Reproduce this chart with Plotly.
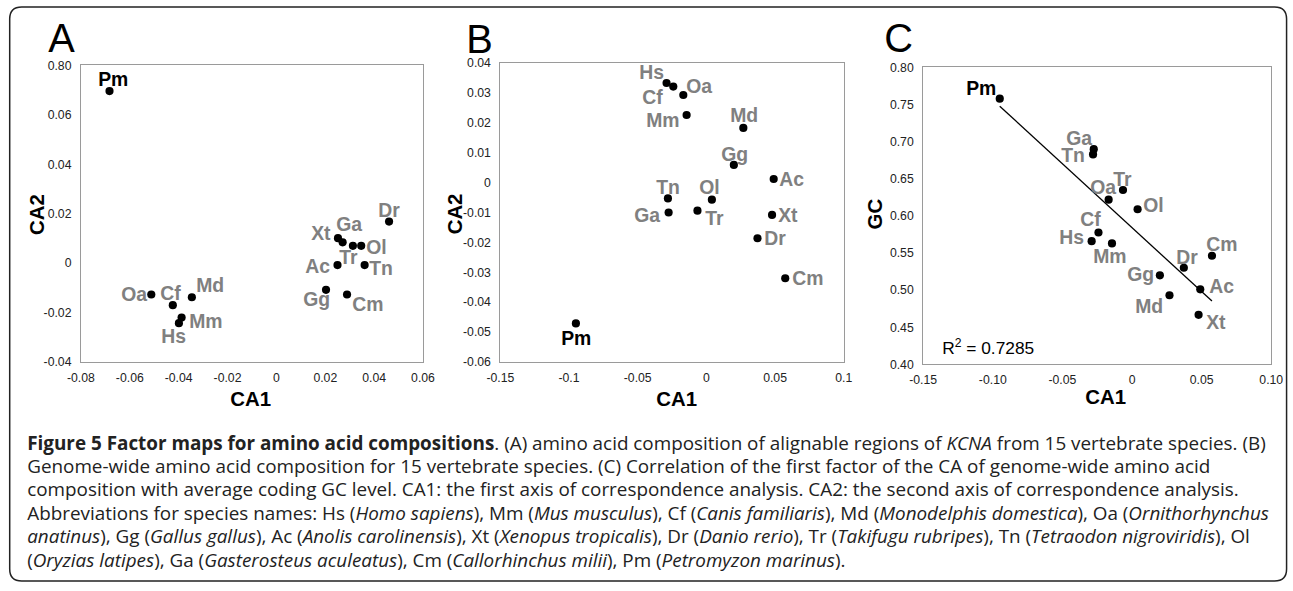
import numpy as np
import plotly.graph_objects as go

species = ["Hs", "Mm", "Cf", "Md", "Oa", "Gg", "Ac", "Xt", "Dr", "Tr", "Tn", "Ol", "Ga", "Cm", "Pm"]

# Panel A: amino acid composition of alignable KCNA regions
a_ca1 = [-0.0399, -0.0388, -0.0424, -0.0346, -0.0512, 0.0203, 0.0250, 0.0252, 0.0461,
         0.0313, 0.0361, 0.0347, 0.0271, 0.0289, -0.0683]
a_ca2 = [-0.0243, -0.0220, -0.0170, -0.0138, -0.0127, -0.0108, -0.0008, 0.0101, 0.0168,
         0.0070, -0.0008, 0.0070, 0.0084, -0.0127, 0.0696]

# Panels B and C: genome-wide amino acid composition
g_ca1 = [-0.0290, -0.0144, -0.0241, 0.0269, -0.0168, 0.0200, 0.0490, 0.0478, 0.0372,
         -0.0065, -0.0280, 0.0040, -0.0275, 0.0574, -0.0950]
g_ca2 = [0.0333, 0.0226, 0.0321, 0.0183, 0.0293, 0.0059, 0.0012, -0.0108, -0.0186,
         -0.0094, -0.0053, -0.0057, -0.0100, -0.0320, -0.0471]
gc_level = [0.5660, 0.5629, 0.5776, 0.4931, 0.6219, 0.5199, 0.5011, 0.4667, 0.5302,
            0.6349, 0.6828, 0.6090, 0.6899, 0.5463, 0.7579]

r2_text = "R<sup>2</sup> = 0.7285"

# tick values / labels
a_xticks = [-0.08, -0.06, -0.04, -0.02, 0, 0.02, 0.04, 0.06]
a_xlabels = ["-0.08", "-0.06", "-0.04", "-0.02", "0", "0.02", "0.04", "0.06"]
a_yticks = [-0.04, -0.02, 0, 0.02, 0.04, 0.06, 0.08]
a_ylabels = ["-0.04", "-0.02", "0", "0.02", "0.04", "0.06", "0.80"]
b_xticks = [-0.15, -0.1, -0.05, 0, 0.05, 0.1]
b_xlabels = ["-0.15", "-0.1", "-0.05", "0", "0.05", "0.1"]
b_yticks = [-0.06, -0.05, -0.04, -0.03, -0.02, -0.01, 0, 0.01, 0.02, 0.03, 0.04]
b_ylabels = ["-0.06", "-0.05", "-0.04", "-0.03", "-0.02", "-0.01", "0", "0.01", "0.02", "0.03", "0.04"]
c_xticks = [-0.15, -0.10, -0.05, 0, 0.05, 0.10]
c_xlabels = ["-0.15", "-0.10", "-0.05", "0", "0.05", "0.10"]
c_yticks = [0.40, 0.45, 0.50, 0.55, 0.60, 0.65, 0.70, 0.75, 0.80]
c_ylabels = ["0.40", "0.45", "0.50", "0.55", "0.60", "0.65", "0.70", "0.75", "0.80"]

caption_lines = [
    "<b>Figure 5 Factor maps for amino acid compositions</b>. (A) amino acid composition of alignable regions of <i>KCNA</i> from 15 vertebrate species. (B)",
    "Genome-wide amino acid composition for 15 vertebrate species. (C) Correlation of the first factor of the CA of genome-wide amino acid",
    "composition with average coding GC level. CA1: the first axis of correspondence analysis. CA2: the second axis of correspondence analysis.",
    "Abbreviations for species names: Hs (<i>Homo sapiens</i>), Mm (<i>Mus musculus</i>), Cf (<i>Canis familiaris</i>), Md (<i>Monodelphis domestica</i>), Oa (<i>Ornithorhynchus</i>",
    "<i>anatinus</i>), Gg (<i>Gallus gallus</i>), Ac (<i>Anolis carolinensis</i>), Xt (<i>Xenopus tropicalis</i>), Dr (<i>Danio rerio</i>), Tr (<i>Takifugu rubripes</i>), Tn (<i>Tetraodon nigroviridis</i>), Ol",
    "(<i>Oryzias latipes</i>), Ga (<i>Gasterosteus aculeatus</i>), Cm (<i>Callorhinchus milii</i>), Pm (<i>Petromyzon marinus</i>).",
]

# ---- label offsets (pixels: dx right, dy up) ----
a_off = {"Pm": (4, 12), "Oa": (-17, 1), "Cf": (-2, 12), "Md": (18, 12), "Mm": (24, -3),
         "Hs": (-5, -12), "Dr": (0, 11), "Xt": (-16, 5), "Ga": (6, 18), "Tr": (-4, -11),
         "Ol": (15, -1), "Ac": (-19, -1), "Tn": (16, -3), "Gg": (-9, -9), "Cm": (20, -9)}
b_off = {"Hs": (-15, 11), "Cf": (-20, -10), "Oa": (16, 9), "Mm": (-23, -5), "Md": (1, 13),
         "Gg": (1, 11), "Ac": (18, 0), "Tn": (0, 11), "Ol": (-3, 12), "Ga": (-21, -2),
         "Tr": (17, -7), "Xt": (16, 0), "Dr": (17, 0), "Cm": (22, 0), "Pm": (0, -14)}
c_off = {"Pm": (-18, 11), "Ga": (-14, 11), "Tn": (-19, 0), "Tr": (0, 11), "Oa": (-5, 12),
         "Ol": (15, 4), "Cf": (-8, 13), "Hs": (-20, 4), "Mm": (-2, -12), "Cm": (10, 12),
         "Dr": (3, 11), "Gg": (-19, 1), "Ac": (21, 3), "Md": (-20, -10), "Xt": (17, -7)}

# ---- screen geometry: design in 1293x591 screen pixels ----
S = 0.98                      # observed capture scale
FW, FH = round(1293 / S), round(591 / S)
SHIFT_X, SHIFT_Y = -13.8, -7.1   # page shift compensating the observed capture offset


def px(x):
    return (x / S) / FW


def py(y):
    return 1 - (y / S) / FH


def sz(v):
    return v / S


FONT = "Arial, Liberation Sans, sans-serif"
GRAY = "#808080"

fig = go.Figure()

panels = [
    dict(x=a_ca1, y=a_ca2, xa="x", ya="y", off=a_off),
    dict(x=g_ca1, y=g_ca2, xa="x2", ya="y2", off=b_off),
    dict(x=g_ca1, y=gc_level, xa="x3", ya="y3", off=c_off),
]

annotations = []
for p in panels:
    fig.add_trace(go.Scatter(x=p["x"], y=p["y"], mode="markers", xaxis=p["xa"], yaxis=p["ya"],
                             marker=dict(color="black", size=sz(8)), showlegend=False,
                             hoverinfo="skip"))
    for name, xv, yv in zip(species, p["x"], p["y"]):
        dx, dy = p["off"][name]
        annotations.append(dict(
            x=xv, y=yv, xref=p["xa"], yref=p["ya"], text="<b>%s</b>" % name,
            showarrow=False, xanchor="center", yanchor="middle", xshift=sz(dx), yshift=sz(dy),
            font=dict(family=FONT, size=sz(19), color="black" if name == "Pm" else GRAY)))

# regression line in panel C (least squares fit of GC on CA1)
slope, intercept = np.polyfit(g_ca1, gc_level, 1)
xl = np.array([min(g_ca1), max(g_ca1)])
fig.add_trace(go.Scatter(x=xl, y=slope * xl + intercept, mode="lines", xaxis="x3", yaxis="y3",
                         line=dict(color="black", width=1.3), showlegend=False, hoverinfo="skip"))

axis_common = dict(showline=True, mirror=True, linecolor="#9a9a9a", linewidth=1,
                   showgrid=False, zeroline=False, ticks="",
                   tickfont=dict(family=FONT, size=sz(12), color="#222"))

layout_axes = dict(
    xaxis=dict(domain=[px(80.7), px(422.7)], range=[-0.08, 0.06], anchor="y",
               tickvals=a_xticks, ticktext=a_xlabels, ticklabelstandoff=4, **axis_common),
    yaxis=dict(domain=[py(363.3), py(65.7)], range=[-0.04, 0.08], anchor="x",
               tickvals=a_yticks, ticktext=a_ylabels, ticklabelstandoff=6, **axis_common),
    xaxis2=dict(domain=[px(500), px(843.3)], range=[-0.15, 0.1], anchor="y2",
                tickvals=b_xticks, ticktext=b_xlabels, ticklabelstandoff=4, **axis_common),
    yaxis2=dict(domain=[py(363.3), py(63.3)], range=[-0.06, 0.04], anchor="x2",
                tickvals=b_yticks, ticktext=b_ylabels, ticklabelstandoff=6, **axis_common),
    xaxis3=dict(domain=[px(922.7), px(1270.7)], range=[-0.15, 0.10], anchor="y3",
                tickvals=c_xticks, ticktext=c_xlabels, ticklabelstandoff=4, **axis_common),
    yaxis3=dict(domain=[py(365.7), py(67.7)], range=[0.40, 0.80], anchor="x3",
                tickvals=c_yticks, ticktext=c_ylabels, ticklabelstandoff=6, **axis_common),
)

# panel letters
for letter, cx, cy in [("A", 61.5, 38), ("B", 479.5, 39), ("C", 898.5, 38.5)]:
    annotations.append(dict(x=px(cx), y=py(cy), xref="paper", yref="paper", text=letter,
                            showarrow=False, xanchor="center", yanchor="middle",
                            font=dict(family=FONT, size=sz(39), color="black")))

# axis titles
for txt, cx, cy, ang in [("CA1", 250, 400, 0), ("CA2", 36.7, 215, -90),
                         ("CA1", 676.7, 400, 0), ("CA2", 455, 215, -90),
                         ("CA1", 1105, 398, 0), ("GC", 875, 215, -90)]:
    annotations.append(dict(x=px(cx), y=py(cy), xref="paper", yref="paper",
                            text="<b>%s</b>" % txt, showarrow=False, textangle=ang,
                            xanchor="center", yanchor="middle",
                            font=dict(family=FONT, size=sz(20), color="black")))

# R^2 text
annotations.append(dict(x=px(940), y=py(348), xref="paper", yref="paper", text=r2_text,
                        showarrow=False, xanchor="left", yanchor="middle",
                        font=dict(family=FONT, size=sz(17), color="black")))

# caption
line_y = [444, 467.5, 491, 514.5, 538, 561.5]
for txt, yy in zip(caption_lines, line_y):
    annotations.append(dict(x=px(25), y=py(yy), xref="paper", yref="paper", text=txt,
                            showarrow=False, xanchor="left", yanchor="middle",
                            font=dict(family="Open Sans, sans-serif", size=sz(18.5), color="#222")))

# rounded outer border
x0, y0, x1, y1 = 9.5, 7, 1286, 583
r = 12
rx, ry = px(r), 1 - py(r)
X0, X1, Y0, Y1 = px(x0), px(x1), py(y1), py(y0)
path = (f"M {X0 + rx},{Y1} L {X1 - rx},{Y1} Q {X1},{Y1} {X1},{Y1 - ry} "
        f"L {X1},{Y0 + ry} Q {X1},{Y0} {X1 - rx},{Y0} L {X0 + rx},{Y0} "
        f"Q {X0},{Y0} {X0},{Y0 + ry} L {X0},{Y1 - ry} Q {X0},{Y1} {X0 + rx},{Y1} Z")

fig.update_layout(
    width=FW, height=FH, margin=dict(l=0, r=0, t=0, b=0),
    paper_bgcolor="white", plot_bgcolor="white",
    annotations=annotations,
    shapes=[dict(type="path", xref="paper", yref="paper", path=path,
                 line=dict(color="#222", width=1.5), fillcolor="rgba(0,0,0,0)")],
    **layout_axes,
)

post = ("document.documentElement.style.overflow='hidden';"
        "document.body.style.margin='0px';"
        "document.body.style.width='%dpx';"
        "document.body.style.height='%dpx';"
        "document.body.style.overflow='visible';"
        "document.body.style.transform='translate(%.1fpx,%.1fpx)';"
        % (FW, FH, SHIFT_X, SHIFT_Y))
fig.write_html("out.html", config={"displayModeBar": False}, post_script=post)
